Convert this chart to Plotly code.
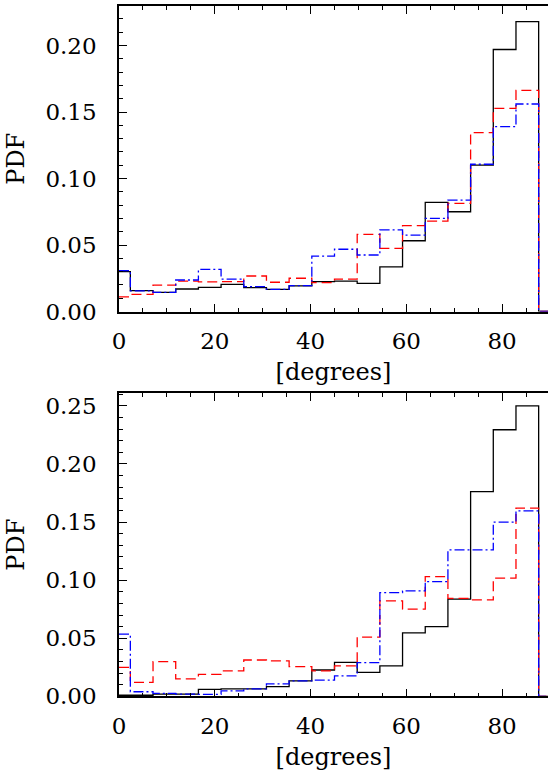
import numpy as np
import plotly.graph_objects as go

# bin centres (degrees): 20 points, 0..90, last point is the closing zero
angles = [k * 90.0 / 19.0 for k in range(20)]

top_black = [0.030, 0.0157, 0.0144, 0.0169, 0.0182, 0.0204, 0.0179, 0.0167, 0.0192, 0.0224,
             0.0229, 0.0212, 0.0335, 0.0532, 0.0821, 0.0750, 0.110, 0.197, 0.218, 0.0]
top_red = [0.011, 0.0129, 0.0199, 0.0229, 0.0222, 0.0224, 0.0267, 0.0220, 0.0250, 0.0217,
           0.0244, 0.058, 0.0475, 0.0645, 0.068, 0.0813, 0.1345, 0.1528, 0.1663, 0.0]
top_blue = [0.0307, 0.0155, 0.0144, 0.0237, 0.0317, 0.0244, 0.0187, 0.0167, 0.0194, 0.0417,
            0.0468, 0.0425, 0.0613, 0.0575, 0.070, 0.0838, 0.1107, 0.139, 0.156, 0.0]

bot_black = [0.001, 0.001, 0.002, 0.002, 0.006, 0.0064, 0.0064, 0.0084, 0.0133, 0.0227,
             0.0293, 0.0207, 0.0262, 0.0546, 0.060, 0.0836, 0.1762, 0.2294, 0.250, 0.0]
bot_red = [0.025, 0.0121, 0.030, 0.015, 0.019, 0.0219, 0.0313, 0.0305, 0.0256, 0.0219,
           0.0262, 0.051, 0.0821, 0.075, 0.103, 0.0844, 0.083, 0.1017, 0.162, 0.0]
bot_blue = [0.0535, 0.004, 0.0026, 0.002, 0.0018, 0.0047, 0.0064, 0.0107, 0.0133, 0.014,
            0.0176, 0.029, 0.0893, 0.0907, 0.0988, 0.126, 0.126, 0.150, 0.1596, 0.0]

x_ticks = [0, 20, 40, 60, 80]
y_tick_step = 0.05
top_yrange = [0, 0.2297]
bot_yrange = [0, 0.261]

W, H = 548, 776
FONT = "DejaVu Serif"

fig = go.Figure()

series = [
    ("x", "y", top_black, "black", "solid"),
    ("x", "y", top_red, "red", "10px,5px"),
    ("x", "y", top_blue, "blue", "10px,3px,2px,3px"),
    ("x2", "y2", bot_black, "black", "solid"),
    ("x2", "y2", bot_red, "red", "10px,5px"),
    ("x2", "y2", bot_blue, "blue", "10px,3px,2px,3px"),
]
for xa, ya, vals, col, dash in series:
    fig.add_trace(go.Scatter(x=angles, y=vals, mode="lines", xaxis=xa, yaxis=ya,
                             line=dict(color=col, width=1.3, dash=dash, shape="hvh"),
                             showlegend=False, hoverinfo="skip"))

# plot area: left edge at px 119, 90 deg lies at px 550 (just off the page)
xmax = 90.0 * (W - 119) / (550 - 119)
left = 119 / W

def ydom(top_px, bot_px):
    return [1 - bot_px / H, 1 - top_px / H]

xcommon = dict(range=[0, xmax], tickvals=x_ticks, ticks="inside", ticklen=8, tickwidth=1.2,
               showline=True, linecolor="black", linewidth=1.5, mirror="ticks",
               showgrid=False, zeroline=False, automargin=False,
               minor=dict(dtick=5, tick0=0, ticks="inside", ticklen=4, tickwidth=1, tickcolor="black", showgrid=False),
               tickcolor="black", tickfont=dict(family=FONT, size=23, color="black"),
               ticklabelstandoff=8,
               title=dict(text="[degrees]", font=dict(family=FONT, size=24, color="black"), standoff=10))

ycommon = dict(dtick=y_tick_step, tick0=0, tickformat=".2f", ticks="inside", ticklen=8, tickwidth=1.2,
               showline=True, linecolor="black", linewidth=1.5,
               showgrid=False, zeroline=False, automargin=False,
               minor=dict(dtick=0.01, tick0=0, ticks="inside", ticklen=4, tickwidth=1, tickcolor="black", showgrid=False),
               tickcolor="black", tickfont=dict(family=FONT, size=23, color="black"),
               ticklabelstandoff=16,
               title=dict(text="PDF", font=dict(family=FONT, size=24, color="black"), standoff=14))

yright = dict(dtick=y_tick_step, tick0=0, ticks="inside", ticklen=8, tickwidth=1.2, tickcolor="black",
              showline=False, showgrid=False, zeroline=False, showticklabels=False, side="right",
              automargin=False,
              minor=dict(dtick=0.01, tick0=0, ticks="inside", ticklen=4, tickwidth=1, tickcolor="black", showgrid=False))

fig.update_layout(
    width=W, height=H,
    margin=dict(l=0, r=0, t=0, b=0, autoexpand=False),
    paper_bgcolor="white", plot_bgcolor="white",
    xaxis=dict(domain=[left, 1], anchor="y", **xcommon),
    yaxis=dict(domain=ydom(6, 311.5), anchor="x", range=top_yrange, **ycommon),
    xaxis2=dict(domain=[left, 1], anchor="y2", **xcommon),
    yaxis2=dict(domain=ydom(393, 696.4), anchor="x2", range=bot_yrange, **ycommon),
    yaxis3=dict(overlaying="y", anchor="x", range=top_yrange, **yright),
    yaxis4=dict(overlaying="y2", anchor="x2", range=bot_yrange, **yright),
)

fig.write_html("out.html")
